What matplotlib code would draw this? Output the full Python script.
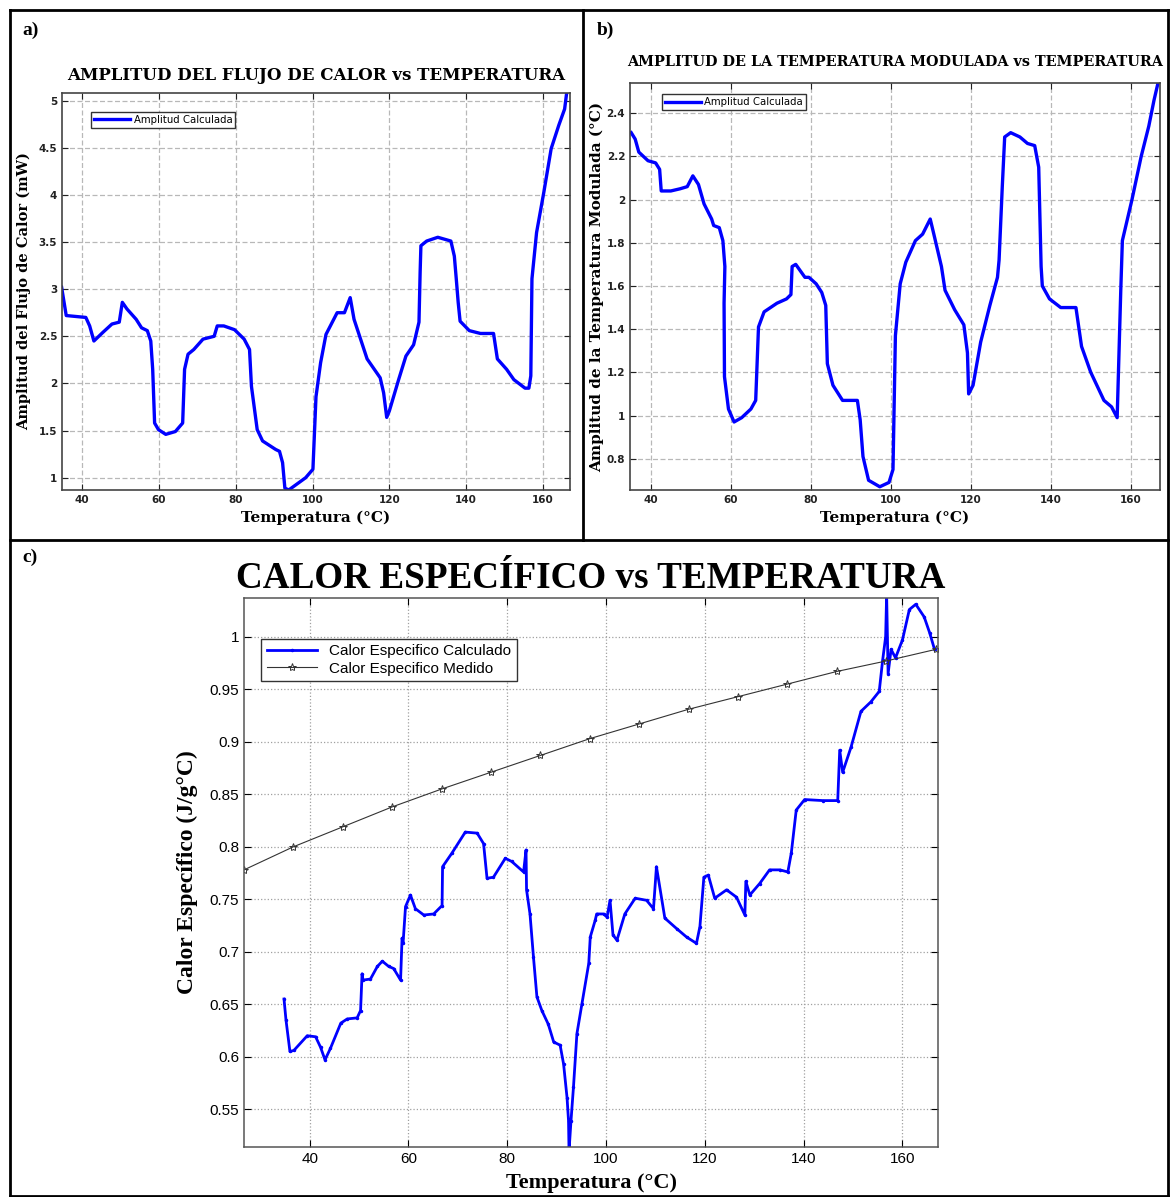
import matplotlib
matplotlib.use('Agg')
import matplotlib.pyplot as plt

# a) amplitude of heat flow
temp_a = [34.7, 35.9, 41.0, 42.0, 43.1, 45.4, 47.8, 49.7, 50.5, 51.7, 54.1, 55.5, 57.0,
          57.9, 58.4, 58.9, 59.9, 61.8, 64.3, 66.2, 66.7, 67.6, 69.1, 71.5, 74.4, 75.2,
          76.9, 79.7, 82.2, 83.6, 84.1, 85.6, 87.0, 90.4, 91.4, 92.2, 92.8, 93.8, 98.2,
          100.1, 100.9, 102.1, 103.5, 106.4, 108.3, 109.8, 110.8, 114.2, 117.6, 118.5,
          119.3, 120.0, 122.4, 124.3, 126.3, 127.7, 128.0, 128.2, 129.7, 132.6, 136.0,
          136.9, 137.4, 137.9, 138.4, 140.8, 143.7, 147.1, 148.1, 150.5, 152.4, 155.3,
          156.3, 156.8, 157.1, 158.3, 160.2, 162.1, 164.1, 165.6, 166.1]
amp_a = [3.02, 2.72, 2.70, 2.61, 2.45, 2.54, 2.63, 2.65, 2.86, 2.79, 2.68, 2.59, 2.56,
         2.45, 2.15, 1.58, 1.51, 1.46, 1.49, 1.58, 2.15, 2.31, 2.36, 2.47, 2.50, 2.61,
         2.61, 2.57, 2.47, 2.36, 1.97, 1.51, 1.39, 1.30, 1.28, 1.16, 0.89, 0.87, 1.00,
         1.09, 1.86, 2.22, 2.52, 2.75, 2.75, 2.91, 2.68, 2.26, 2.06, 1.90,
         1.64, 1.71, 2.04, 2.29, 2.41, 2.65, 3.18, 3.46, 3.51, 3.55, 3.51,
         3.35, 3.11, 2.86, 2.66, 2.56, 2.53, 2.53, 2.26, 2.15, 2.04, 1.95,
         1.95, 2.08, 3.11, 3.60, 4.03, 4.49, 4.74, 4.91, 5.07]

# b) amplitude of modulated temperature
temp_b = [35.1, 36.1, 37.0, 39.3, 41.2, 42.2, 42.6, 45.0, 47.3, 49.1, 50.5, 51.9, 53.3,
          55.2, 55.7, 57.1, 58.0, 58.5, 58.3, 58.4, 59.4, 60.8, 62.7, 65.0, 66.2, 66.9,
          68.3, 71.5, 73.9, 75.0, 75.3, 76.2, 78.5, 79.5, 81.3, 82.7, 83.7, 84.1, 85.5,
          87.9, 91.6, 92.3, 93.0, 94.4, 97.2, 99.5, 100.5, 101.1, 102.3, 103.7, 106.1,
          107.9, 109.8, 110.7, 112.6, 113.5, 115.9, 118.2, 119.1, 119.4, 120.5, 122.4,
          124.7, 126.6, 127.0, 127.8, 128.4, 129.9, 132.2, 134.1, 135.9, 136.9, 137.5,
          137.8, 139.6, 142.4, 146.2, 147.6, 149.9, 153.2, 155.1, 156.5, 157.4, 157.8,
          160.2, 162.5, 164.4, 165.7, 166.7]
amp_b = [2.31, 2.28, 2.22, 2.18, 2.17, 2.14, 2.04, 2.04, 2.05, 2.06, 2.11, 2.07, 1.98,
         1.91, 1.88, 1.87, 1.81, 1.69, 1.52, 1.18, 1.03, 0.97, 0.99, 1.03, 1.07, 1.41,
         1.48, 1.52, 1.54, 1.56, 1.69, 1.70, 1.64, 1.64, 1.61, 1.57, 1.51, 1.24, 1.14,
         1.07, 1.07, 0.98, 0.81, 0.70, 0.67, 0.69, 0.75, 1.37, 1.61, 1.71, 1.81,
         1.84, 1.91, 1.84, 1.69, 1.58, 1.49, 1.42, 1.29, 1.10, 1.14, 1.34,
         1.51, 1.64, 1.72, 2.06, 2.29, 2.31, 2.29, 2.26, 2.25, 2.15, 1.69,
         1.60, 1.54, 1.50, 1.50, 1.32, 1.20, 1.07, 1.04, 0.99, 1.58, 1.81,
         2.00, 2.20, 2.34, 2.46, 2.54]

# c) specific heat, calculated
temp_c = [34.8, 35.2, 36.0, 36.8, 39.5, 41.2, 42.2, 43.1, 44.2, 46.3, 47.6, 49.6, 50.3,
          50.6, 50.8, 52.3, 53.7, 54.7, 56.0, 57.0, 58.4, 58.7, 58.9, 59.4, 60.4, 61.4,
          63.1, 65.1, 66.8, 66.9, 68.8, 71.5, 73.9, 75.2, 75.9, 77.2, 79.6, 80.9, 83.3,
          83.8, 83.9, 84.6, 85.3, 86.0, 87.0, 88.3, 89.4, 90.7, 91.4, 92.1, 92.4, 92.5,
          92.9, 93.4, 94.1, 95.1, 96.5, 96.8, 97.8, 98.1, 99.5, 100.2, 100.8, 101.4,
          102.2, 103.8, 105.9, 108.2, 109.6, 110.2, 111.9, 114.3, 116.3, 118.3, 119.0,
          119.8, 120.7, 122.0, 124.4, 126.4, 128.1, 128.3, 129.1, 131.1, 133.1, 135.2,
          136.8, 137.5, 138.5, 140.2, 143.9, 146.9, 147.3, 147.9, 149.6, 151.6, 153.6,
          155.3, 156.0, 156.6, 156.8, 157.1, 157.7, 158.6, 160.0, 161.4, 162.7, 164.4,
          165.5, 166.5]
cp_calc = [0.655, 0.635, 0.605, 0.606, 0.620, 0.619, 0.609, 0.597, 0.608, 0.632, 0.636,
           0.637, 0.644, 0.679, 0.673, 0.674, 0.686, 0.691, 0.686, 0.684, 0.673, 0.713,
           0.708, 0.743, 0.754, 0.741, 0.735, 0.736, 0.744, 0.781, 0.794, 0.814, 0.813,
           0.803, 0.770, 0.771, 0.789, 0.786, 0.776, 0.797, 0.759, 0.736, 0.695, 0.657,
           0.644, 0.631, 0.614, 0.611, 0.593, 0.561, 0.539, 0.510, 0.539, 0.571, 0.622,
           0.650, 0.689, 0.714, 0.730, 0.736, 0.736, 0.733, 0.749, 0.716, 0.711, 0.736,
           0.751, 0.749, 0.741, 0.781, 0.732, 0.722, 0.714, 0.708, 0.724, 0.771, 0.773,
           0.751, 0.759, 0.752, 0.735, 0.767, 0.754, 0.765, 0.778, 0.778, 0.776, 0.794,
           0.835, 0.845, 0.844, 0.844, 0.892, 0.871, 0.895, 0.929, 0.938, 0.948, 0.978,
           1.000, 1.040, 0.965, 0.988, 0.980, 0.997, 1.026, 1.031, 1.019, 1.004, 0.988]

# c) specific heat, measured
temp_med = [26.7, 36.7, 46.7, 56.7, 66.7, 76.7, 86.7, 96.7, 106.7, 116.7, 126.7, 136.7,
            146.7, 156.7, 166.7]
cp_med = [0.778, 0.800, 0.819, 0.838, 0.855, 0.871, 0.887, 0.903, 0.917, 0.931, 0.943,
          0.955, 0.967, 0.977, 0.988]

x_ticks = [40, 60, 80, 100, 120, 140, 160]
W, H = 1170, 1197

fig = plt.figure(figsize=(W / 100, H / 100), dpi=100)

# frame of the three cells
bg = fig.add_axes([0, 0, 1, 1], zorder=-1)
bg.set_xlim(0, W)
bg.set_ylim(H, 0)
bg.axis('off')
for xs, ys in [([10, 1168], [10, 10]), ([10, 10], [10, 1196]), ([1168, 1168], [10, 1196]),
               ([10, 1168], [1196, 1196]), ([583, 583], [10, 540]), ([10, 1168], [540, 540])]:
    bg.plot(xs, ys, color='black', lw=2)
for x, y, s in [(22, 30, 'a)'), (597, 30, 'b)'), (22, 557, 'c)')]:
    bg.text(x, y, s, fontsize=14, fontweight='bold', family='Liberation Serif',
            va='center', ha='left')


def axes_box(left, top, right, bottom):
    return [left / W, 1 - bottom / H, (right - left) / W, (bottom - top) / H]


def style_small(ax):
    ax.grid(True, color='#b8b8b8', linestyle=(0, (4, 2)), lw=0.9)
    ax.tick_params(direction='in', top=True, right=True, length=4, labelsize=7.5,
                   colors='#222222')
    for lbl in ax.get_xticklabels() + ax.get_yticklabels():
        lbl.set_fontweight('bold')
    for sp in ax.spines.values():
        sp.set_color('#444444')
        sp.set_linewidth(1.2)


serif = 'Liberation Serif'
wide_serif = 'DejaVu Serif'

# panel a
ax_a = fig.add_axes(axes_box(62, 93, 570, 490))
ax_a.plot(temp_a, amp_a, color='#0000ff', lw=2.4, label='Amplitud Calculada')
ax_a.set_xlim(34.8, 167)
ax_a.set_ylim(0.87, 5.08)
ax_a.set_xticks(x_ticks)
ax_a.set_yticks([1, 1.5, 2, 2.5, 3, 3.5, 4, 4.5, 5])
ax_a.set_yticklabels(['1', '1.5', '2', '2.5', '3', '3.5', '4', '4.5', '5'])
style_small(ax_a)
ax_a.set_title('AMPLITUD DEL FLUJO DE CALOR vs TEMPERATURA', fontsize=12,
               fontweight='bold', family=wide_serif, pad=9, x=0.5)
ax_a.set_xlabel('Temperatura (°C)', fontsize=11, fontweight='bold', family=wide_serif,
                labelpad=4)
ax_a.set_ylabel('Amplitud del Flujo de Calor (mW)', fontsize=10.5, fontweight='bold',
                family=wide_serif, labelpad=5)
ax_a.legend(loc='upper left', bbox_to_anchor=(0.047, 0.965), fontsize=7.3,
            handlelength=3.6, fancybox=False, edgecolor='#333333', framealpha=1,
            borderpad=0.3, handletextpad=0.3)

# panel b
ax_b = fig.add_axes(axes_box(630, 83, 1160, 490))
ax_b.plot(temp_b, amp_b, color='#0000ff', lw=2.4, label='Amplitud Calculada')
ax_b.set_xlim(34.8, 167.2)
ax_b.set_ylim(0.655, 2.54)
ax_b.set_xticks(x_ticks)
ax_b.set_yticks([0.8, 1, 1.2, 1.4, 1.6, 1.8, 2, 2.2, 2.4])
ax_b.set_yticklabels(['0.8', '1', '1.2', '1.4', '1.6', '1.8', '2', '2.2', '2.4'])
style_small(ax_b)
ax_b.set_title('AMPLITUD DE LA TEMPERATURA MODULADA vs TEMPERATURA', fontsize=10.4,
               fontweight='bold', family=wide_serif, pad=12)
ax_b.set_xlabel('Temperatura (°C)', fontsize=11, fontweight='bold', family=wide_serif,
                labelpad=4)
ax_b.set_ylabel('Amplitud de la Temperatura Modulada (°C)', fontsize=11,
                fontweight='bold', family=wide_serif, labelpad=2)
ax_b.legend(loc='upper left', bbox_to_anchor=(0.05, 0.985), fontsize=7.3,
            handlelength=3.6, fancybox=False, edgecolor='#333333', framealpha=1,
            borderpad=0.3, handletextpad=0.3)

# panel c
ax_c = fig.add_axes(axes_box(244, 598, 938, 1147))
ax_c.plot(temp_c, cp_calc, color='#0000ff', lw=2, marker='.', ms=3,
          label='Calor Especifico Calculado')
ax_c.plot(temp_med, cp_med, color='#333333', lw=0.8, marker='*', ms=6, mfc='none',
          mec='#333333', mew=0.7, label='Calor Especifico Medido')
ax_c.set_xlim(26.7, 167.2)
ax_c.set_ylim(0.514, 1.037)
ax_c.set_xticks(x_ticks)
ax_c.set_yticks([0.55, 0.6, 0.65, 0.7, 0.75, 0.8, 0.85, 0.9, 0.95, 1])
ax_c.set_yticklabels(['0.55', '0.6', '0.65', '0.7', '0.75', '0.8', '0.85', '0.9',
                      '0.95', '1'])
ax_c.grid(True, color='#a0a0a0', linestyle=':', lw=0.9)
ax_c.tick_params(direction='in', top=True, right=True, length=5, labelsize=11)
for lbl in ax_c.get_xticklabels() + ax_c.get_yticklabels():
    lbl.set_family('Liberation Sans')
for sp in ax_c.spines.values():
    sp.set_color('#555555')
    sp.set_linewidth(1.1)
ax_c.set_title('CALOR ESPECÍFICO vs TEMPERATURA', fontsize=26.7, fontweight='bold',
               family=serif, pad=7)
ax_c.set_xlabel('Temperatura (°C)', fontsize=16, fontweight='bold', family=serif,
                labelpad=5)
ax_c.set_ylabel('Calor Específico (J/g°C)', fontsize=17, fontweight='bold',
                family=serif, labelpad=8)
ax_c.legend(loc='upper left', bbox_to_anchor=(0.014, 0.94),
            prop={'family': 'Liberation Sans', 'size': 11}, handlelength=3.3,
            fancybox=False, edgecolor='#333333', framealpha=1, borderpad=0.35,
            labelspacing=0.25)

fig.savefig('out.png', dpi=100)
